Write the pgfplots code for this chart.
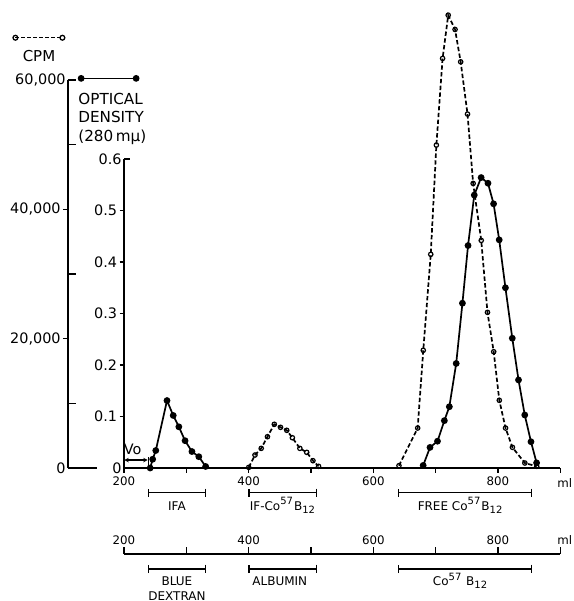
\documentclass[border=0pt]{standalone}
\usepackage{fontspec}
\setmainfont{DejaVu Sans}
\usepackage{pgfplots}
\usepackage{pgfplotstable}
\pgfplotsset{compat=1.18}
\usetikzlibrary{arrows.meta}

\pgfplotstableread{
ml od
242 0.000
246 0.017
251 0.034
269 0.131
279 0.102
288 0.080
298 0.053
309 0.032
320 0.022
331 0.003
}\odA
\pgfplotstableread{
ml od
680 0.005
691 0.040
703 0.052
714 0.092
722 0.119
733 0.203
743 0.320
752 0.432
762 0.530
773 0.564
784 0.553
793 0.513
802 0.443
812 0.350
823 0.252
833 0.171
843 0.103
853 0.051
862 0.010
}\odB
\pgfplotstableread{
ml cpm
400 100
410 2010
420 3040
430 4840
441 6760
451 6290
461 5830
470 4680
482 3040
493 2420
503 1130
512 260
}\cpmA
\pgfplotstableread{
ml cpm
641 360
671 6180
680 18200
692 33040
701 49940
711 63340
720 70030
731 67820
740 62810
751 54730
760 44010
773 35200
783 24070
793 17980
802 10470
812 6180
823 3200
843 770
862 260
}\cpmB

\pgfplotsset{
 base/.style={scale only axis, clip=false,
   axis line style={line width=0.75pt, black},
   tick style={line width=0.7pt, black},
   scaled ticks=false},
 cpmline/.style={black, line width=0.85pt, dash pattern=on 2.2pt off 1.2pt,
   mark=o, mark size=1.1pt, mark options={solid, fill=white, line width=0.6pt}},
 odline/.style={black, line width=0.85pt, mark=*, mark size=1.25pt, mark options={solid}},
}
\tikzset{brk/.style={line width=0.75pt, {Bar[width=4.2pt]}-{Bar[width=4.2pt]}}}
\newcommand{\tl}{\fontsize{7.2}{8}\selectfont}
\newcommand{\xl}{\fontsize{5.9}{7}\selectfont}
\newcommand{\bl}{\fontsize{6}{7}\selectfont}

\begin{document}
\begin{tikzpicture}
% ---------- CPM axis ----------
\begin{axis}[base,
 at={(34pt,-234pt)}, anchor=south west,
 width=246.2pt, height=194pt,
 xmin=110, xmax=900, ymin=0, ymax=60000,
 axis x line=none, axis y line*=left,
 tick align=outside, major tick length=2.5pt,
 ytick={20000,40000}, yticklabels={{20,000},{40,000}},
 extra y ticks={0,10000,30000,50000,60000},
 extra y tick labels={0,,,,{60,000}},
 extra y tick style={tick align=inside, major tick length=4pt},
 yticklabel style={font=\tl, inner xsep=1pt},
 legend style={at={(-0.1117,1.109)}, anchor=west, draw=none, fill=none,
   inner sep=0pt, outer sep=0pt, nodes={inner sep=0pt}},
 legend image code/.code={\draw[#1] plot coordinates {(0pt,0pt) (23.5pt,0pt)};},
]
\addlegendimage{black, line width=0.7pt, dash pattern=on 1.6pt off 1.4pt,
   mark=o, mark size=1.2pt, mark options={solid, fill=white, line width=0.65pt}}
\addlegendentry{}
\addplot[cpmline, forget plot] table[x=ml, y=cpm] {\cpmA};
\addplot[cpmline, forget plot] table[x=ml, y=cpm] {\cpmB};
\draw[line width=0.75pt] (axis cs:110,0) -- (axis cs:156.5,0);
\end{axis}

% ---------- OD axis ----------
\begin{axis}[base,
 at={(62pt,-234pt)}, anchor=south west,
 width=218.15pt, height=154.5pt,
 xmin=200, xmax=900, ymin=0, ymax=0.6,
 axis x line*=bottom, axis y line*=left,
 tick align=outside, major tick length=2.25pt, minor tick length=2.25pt,
 xtick={200,400,600,800}, xticklabels={200,400,600,800},
 minor xtick={300,500,700,900},
 ytick={0.1,0.2,0.3,0.4,0.5}, yticklabels={0.1,0.2,0.3,0.4,0.5},
 extra y ticks={0,0.6}, extra y tick labels={0,0.6},
 extra y tick style={tick align=inside, major tick length=3pt},
 yticklabel style={font=\tl, inner xsep=1pt},
 xticklabel style={font=\xl, inner sep=1pt, yshift=-1pt},
 legend style={at={(-0.104,1.261)}, anchor=west, draw=none, fill=none,
   inner sep=0pt, outer sep=0pt, nodes={inner sep=0pt}},
 legend image code/.code={\draw[#1] plot coordinates {(0pt,0pt) (27.5pt,0pt)};},
]
\addlegendimage{odline}
\addlegendentry{}
\addplot[odline, forget plot] table[x=ml, y=od] {\odA};
\addplot[odline, forget plot] table[x=ml, y=od] {\odB};
% Vo marker
\draw[line width=0.6pt, {Stealth[length=2.2pt,width=2.2pt]}-{Stealth[length=2.2pt,width=2.2pt]}]
  (axis cs:200.5,0.0155) -- (axis cs:238,0.0155);
\draw[line width=0.7pt] (axis cs:239.5,0.004) -- (axis cs:239.5,0.022);
\node[font=\fontsize{7.2}{8}\selectfont, anchor=base] at (axis cs:214,0.027) {Vo};
% brackets
\draw[brk] (axis cs:238.5,-0.048) -- (axis cs:331.6,-0.048);
\draw[brk] (axis cs:399,-0.048) -- (axis cs:510,-0.048);
\draw[brk] (axis cs:639,-0.048) -- (axis cs:855,-0.048);
\draw[brk] (axis cs:238.5,-0.196) -- (axis cs:331.6,-0.196);
\draw[brk] (axis cs:399,-0.196) -- (axis cs:510,-0.196);
\draw[brk] (axis cs:639,-0.196) -- (axis cs:855,-0.196);
\node[font=\bl, anchor=base] at (axis cs:285,-0.0816) {IFA};
\node[font=\bl, anchor=base] at (axis cs:455,-0.0816) {IF-Co\textsuperscript{57}B\textsubscript{12}};
\node[font=\bl, anchor=base] at (axis cs:740,-0.0816) {FREE Co\textsuperscript{57}B\textsubscript{12}};
\node[font=\bl, anchor=base] at (axis cs:285,-0.2283) {BLUE};
\node[font=\bl, anchor=base] at (axis cs:285,-0.2575) {DEXTRAN};
\node[font=\bl, anchor=base] at (axis cs:450,-0.2283) {ALBUMIN};
\node[font=\bl, anchor=base] at (axis cs:740,-0.2283) {Co\textsuperscript{57} B\textsubscript{12}};
\end{axis}

% ---------- bottom ml axis ----------
\begin{axis}[base,
 at={(62pt,-277pt)}, anchor=north west,
 width=218.15pt, height=5pt,
 xmin=200, xmax=900, ymin=0, ymax=1,
 axis x line*=top, axis y line=none,
 tick align=outside, major tick length=3.35pt, minor tick length=3.35pt,
 xtick={200,400,600,800}, xticklabels={200,400,600,800},
 minor xtick={300,500,700,900},
 xticklabel style={font=\xl, inner sep=1pt},
]
\end{axis}

% ---------- text ----------
\node[font=\fontsize{7.5}{8}\selectfont, anchor=base] at (19.5pt,-30.85pt) {CPM};
\node[font=\fontsize{7.6}{8}\selectfont, anchor=base west, inner sep=0pt] at (39pt,-52.25pt) {OPTICAL};
\node[font=\fontsize{7.6}{8}\selectfont, anchor=base west, inner sep=0pt] at (39pt,-61pt) {DENSITY};
\node[font=\fontsize{7.6}{8}\selectfont, anchor=base west, inner sep=0pt] at (39pt,-70.5pt) {(280\,mμ)};
\node[font=\xl, anchor=west, inner sep=0pt] at (278.5pt,-241.5pt) {ml};
\node[font=\xl, anchor=west, inner sep=0pt] at (278.5pt,-270pt) {ml};

\pgfresetboundingbox
\useasboundingbox (0,0) rectangle (287pt,-300.5pt);
\end{tikzpicture}
\end{document}
